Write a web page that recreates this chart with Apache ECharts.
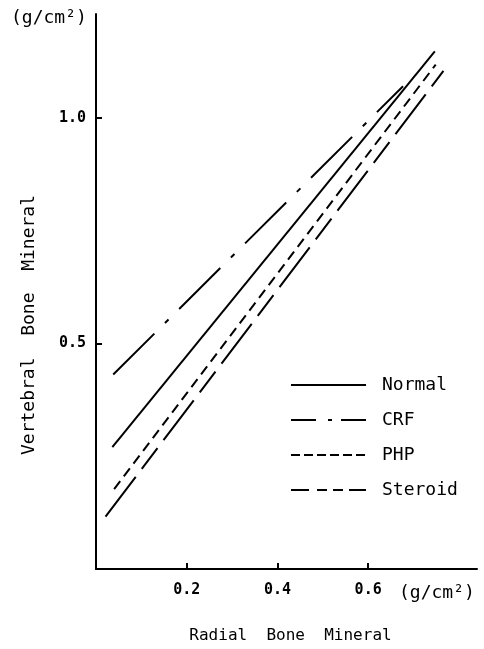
<!DOCTYPE html>
<html>
<head>
<meta charset="utf-8">
<script src="https://cdn.jsdelivr.net/npm/echarts@6/dist/echarts.min.js"></script>
<style>
html,body{margin:0;padding:0;background:#fff;}
#c{width:484px;height:649px;}
</style>
</head>
<body>
<div id="c"></div>
<script>
// Data (x: radial BMC, y: vertebral BMC, g/cm2)
const seriesNames = ['Normal', 'CRF', 'PHP', 'Steroid'];
const normalX = [0.036, 0.747];
const normalY = [0.270, 1.147];
const crfX = [0.038, 0.677];
const crfY = [0.431, 1.070];
const phpX = [0.040, 0.749];
const phpY = [0.177, 1.118];
const steroidX = [0.021, 0.766];
const steroidY = [0.116, 1.104];
const xTicks = [0.2, 0.4, 0.6];
const yTicks = [0.5, 1.0];

const FONT = 'DejaVu Sans Mono';
const pairs = (xs, ys) => xs.map((x, i) => [x, ys[i]]);

const chart = echarts.init(document.getElementById('c'), null, {renderer: 'canvas'});

const styles = {
  Normal: 'solid',
  CRF: [58, 15, 5, 15],
  PHP: [10, 6],
  Steroid: [50, 10, 26, 10]
};
const legendStyles = {
  Normal: 'solid',
  CRF: [25, 12, 4, 9],
  PHP: [9, 4],
  Steroid: [18, 8, 10, 6, 10, 6]
};
const dataSets = {
  Normal: pairs(normalX, normalY),
  CRF: pairs(crfX, crfY),
  PHP: pairs(phpX, phpY),
  Steroid: pairs(steroidX, steroidY)
};

chart.setOption({
  animation: false,
  backgroundColor: '#fff',
  grid: {left: 96, right: 7, top: 14, bottom: 77},
  xAxis: {
    type: 'value', min: 0, max: 0.84,
    axisLine: {show: true, onZero: false, lineStyle: {color: '#000', width: 2}},
    axisTick: {show: true, inside: true, length: 6, customValues: xTicks, lineStyle: {color: '#000', width: 2}},
    axisLabel: {customValues: xTicks, margin: 14, color: '#000', fontFamily: FONT, fontSize: 15, fontWeight: 'bold',
      formatter: v => v.toFixed(1)},
    splitLine: {show: false},
    name: 'Radial  Bone  Mineral',
    nameLocation: 'middle', nameGap: 59,
    nameTextStyle: {color: '#000', fontFamily: FONT, fontSize: 16, padding: [0, 0, 0, 8]}
  },
  yAxis: {
    type: 'value', min: 0, max: 1.23,
    axisLine: {show: true, onZero: false, lineStyle: {color: '#000', width: 2}},
    axisTick: {show: true, inside: true, length: 6, customValues: yTicks, lineStyle: {color: '#000', width: 2}},
    axisLabel: {customValues: yTicks, margin: 10, color: '#000', fontFamily: FONT, fontSize: 15, fontWeight: 'bold',
      formatter: v => v.toFixed(1)},
    splitLine: {show: false}
  },
  legend: {
    orient: 'vertical', left: 285, top: 371,
    itemWidth: 75, itemHeight: 14, itemGap: 17,
    itemStyle: {opacity: 0, borderWidth: 0},
    textStyle: {color: '#000', fontFamily: FONT, fontSize: 18, padding: [0, 0, 0, 11]},
    data: seriesNames.map(n => ({name: n, itemStyle: {opacity: 0}, lineStyle: {type: legendStyles[n], width: 2, color: '#000', opacity: 1}}))
  },
  graphic: [
    {type: 'text', left: 11, top: 9, style: {text: '(g/cm²)', font: '18px "' + FONT + '"', fill: '#000'}},
    {type: 'text', left: 399, top: 584, style: {text: '(g/cm²)', font: '18px "' + FONT + '"', fill: '#000'}},
    {type: 'text', x: 29, y: 325, rotation: Math.PI / 2,
      style: {text: 'Vertebral  Bone  Mineral', font: '18px "' + FONT + '"', fill: '#000', align: 'center', verticalAlign: 'middle'}}
  ],
  series: seriesNames.map(n => ({
    name: n, type: 'line', symbol: 'none', showSymbol: false, data: dataSets[n],
    lineStyle: {color: '#000', width: 2, type: styles[n]},
    itemStyle: {color: '#000'}
  }))
});
</script>
</body>
</html>
